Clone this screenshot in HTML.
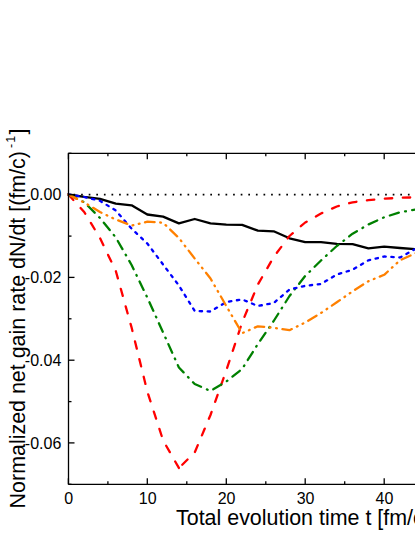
<!DOCTYPE html>
<html><head><meta charset="utf-8"><title>chart</title>
<style>html,body{margin:0;padding:0;background:#fff;overflow:hidden}body{width:415px;height:537px;position:relative;font-family:"Liberation Sans",sans-serif}</style></head>
<body>
<svg width="415" height="537" viewBox="0 0 415 537" style="position:absolute;left:0;top:0;display:block">
<rect width="415" height="537" fill="#fff"/>
<line x1="73.5" y1="194.6" x2="420" y2="194.6" stroke="#000" stroke-width="1.7" stroke-dasharray="1.7 5.9"/>
<g fill="none" stroke-linejoin="round" stroke-linecap="round" stroke-width="2.3">
<polyline points="68.4,194.5 84.2,196.9 100.0,198.8 115.8,203.6 131.6,205.3 147.3,214.5 163.1,216.6 178.9,223.4 194.7,219.0 210.5,223.4 226.3,224.6 242.1,224.8 257.9,230.6 273.7,231.3 289.5,238.3 305.2,242.2 321.0,242.2 336.8,243.9 352.6,244.1 368.4,248.4 384.2,246.7 400.0,248.0 415.8,249.2" stroke="#000"/>
<polyline points="68.4,194.5 84.2,212.0 100.0,238.0 115.8,271.0 131.6,327.5 147.3,391.5 163.1,440.4 178.9,468.0" stroke="#ff0000" stroke-dasharray="7.4 10.78"/>
<polyline points="178.9,468.0 194.7,452.5 210.5,415.0 226.3,370.5 242.1,322.5 257.9,284.5 273.7,257.0 289.5,236.0 305.2,222.5 321.0,213.5 336.8,206.5 352.6,202.3 368.4,200.1 384.2,198.7 400.0,197.8 415.8,197.3" stroke="#ff0000" stroke-dasharray="7.4 10.6" stroke-dashoffset="13.3"/>
<polyline points="68.4,194.5 84.2,202.2 100.0,218.0 115.8,237.5 131.6,265.0 147.3,297.5 163.1,332.5 178.9,367.5 194.7,384.0 210.5,391.0 226.3,381.5 242.1,369.0 257.9,344.0 273.7,321.0 289.5,296.0 305.2,276.0 321.0,260.5 336.8,246.0 352.6,233.7 368.4,224.5 384.2,217.3 400.0,212.3 415.8,209.5" stroke="#008000" stroke-dasharray="9.4 6.4 0.8 6.4"/>
<polyline points="68.4,194.5 84.2,197.0 100.0,200.8 115.8,210.5 131.6,228.7 147.3,243.5 163.1,264.5 178.9,285.5 194.7,311.0 210.5,311.5 226.3,302.0 242.1,299.4 257.9,306.0 273.7,303.0 289.5,289.5 305.2,285.8 321.0,284.0 336.8,274.5 352.6,269.7 368.4,260.3 384.2,256.5 400.0,257.5 415.8,248.7" stroke="#0000ff" stroke-dasharray="2.4 5.6"/>
<polyline points="68.4,194.5 84.2,202.5 100.0,212.0 115.8,219.5 131.6,225.5 147.3,221.7 163.1,222.7 178.9,238.0 194.7,258.5 210.5,278.5 226.3,306.0 242.1,333.2 257.9,326.3 273.7,327.8 289.5,330.2 305.2,322.5 321.0,313.0 336.8,302.3 352.6,291.3 368.4,281.2 384.2,274.8 400.0,260.3 415.8,253.2" stroke="#ff8000" stroke-dasharray="9.7 5.6 0.8 5.6 0.8 5.6"/>
</g>
<g stroke="#000" stroke-width="1.3" fill="none">
<path d="M68.5 484.5 L68.5 153.3 L420 153.3"/>
<path d="M68.5 484.3 L420 484.3"/>
<path d="M68.4 484.3 v-6"/>
<path d="M68.4 153.3 v6"/>
<path d="M107.9 484.3 v-3"/>
<path d="M107.9 153.3 v3"/>
<path d="M147.3 484.3 v-6"/>
<path d="M147.3 153.3 v6"/>
<path d="M186.8 484.3 v-3"/>
<path d="M186.8 153.3 v3"/>
<path d="M226.3 484.3 v-6"/>
<path d="M226.3 153.3 v6"/>
<path d="M265.8 484.3 v-3"/>
<path d="M265.8 153.3 v3"/>
<path d="M305.2 484.3 v-6"/>
<path d="M305.2 153.3 v6"/>
<path d="M344.7 484.3 v-3"/>
<path d="M344.7 153.3 v3"/>
<path d="M384.2 484.3 v-6"/>
<path d="M384.2 153.3 v6"/>
<path d="M68.5 153.3 h3"/>
<path d="M68.5 194.7 h6"/>
<path d="M68.5 236.1 h3"/>
<path d="M68.5 277.4 h6"/>
<path d="M68.5 318.8 h3"/>
<path d="M68.5 360.2 h6"/>
<path d="M68.5 401.6 h3"/>
<path d="M68.5 442.9 h6"/>
<path d="M68.5 484.3 h3"/>
</g>
<g font-family="Liberation Sans, sans-serif" font-size="16px" fill="#000">
<text transform="translate(61.3,200.3) scale(1,1.06)" text-anchor="end">0.00</text>
<text transform="translate(61.3,283.0) scale(1,1.06)" text-anchor="end">-0.02</text>
<text transform="translate(61.3,365.8) scale(1,1.06)" text-anchor="end">-0.04</text>
<text transform="translate(61.3,448.5) scale(1,1.06)" text-anchor="end">-0.06</text>
<text transform="translate(68.7,504.2) scale(1,1.06)" text-anchor="middle">0</text>
<text transform="translate(147.7,504.2) scale(1,1.06)" text-anchor="middle">10</text>
<text transform="translate(226.6,504.2) scale(1,1.06)" text-anchor="middle">20</text>
<text transform="translate(305.6,504.2) scale(1,1.06)" text-anchor="middle">30</text>
<text transform="translate(384.5,504.2) scale(1,1.06)" text-anchor="middle">40</text>
</g>
<g font-family="Liberation Sans, sans-serif" font-size="21.45px" fill="#000">
<text transform="translate(176.0,525.3) scale(1,1.055)">Total evolution time t [fm/c]</text>
<text transform="translate(25.2,508.4) rotate(-90) scale(1,1.055)">Normalized net gain rate dN/dt [(fm/c) <tspan font-size="12.5px" dy="-9.6" dx="-3.0">-</tspan><tspan font-size="12.5px" dx="1.1">1</tspan><tspan dy="9.6" dx="1.3">]</tspan></text>
</g>
</svg>
</body></html>
